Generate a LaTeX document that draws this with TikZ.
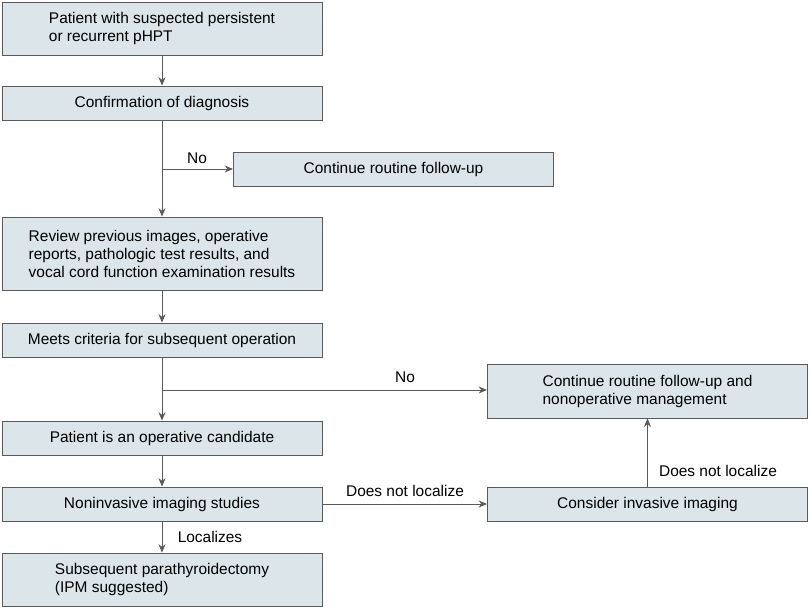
\documentclass[tikz,border=0pt]{standalone}
\usepackage{fontspec}
\setmainfont{Liberation Sans}
\usetikzlibrary{positioning,arrows.meta,calc}
\definecolor{boxfill}{HTML}{DCE6EA}
\definecolor{boxline}{HTML}{5A5A5A}
\begin{document}
\begin{tikzpicture}[x=0.025cm,y=-0.025cm,
  font=\fontsize{11}{12.8}\selectfont,
  stage/.style={draw=boxline, fill=boxfill, line width=0.6pt, align=left,
    minimum width=8cm, inner sep=0pt},
  conn/.style={draw=boxline, line width=0.6pt, -{Stealth[length=6pt,width=5pt]}},
  lbl/.style={inner sep=1pt}]
\useasboundingbox (0,0) rectangle (810,608);
% main column
\node [stage, minimum height=1.325cm] (susp) at (162,28.5) {Patient with suspected persistent\\or recurrent pHPT};
\node [stage, minimum height=0.85cm] (conf) at (162,103) {Confirmation of diagnosis};
\node [stage, minimum height=0.85cm] (cont) at (393.5,169) {Continue routine follow-up};
\node [stage, minimum height=1.825cm] (rev) at (162,253.5) {Review previous images, operative\\reports, pathologic test results, and\\vocal cord function examination results};
\node [stage, minimum height=0.85cm] (meet) at (162,340) {Meets criteria for subsequent operation};
\node [stage, minimum height=1.35cm] (nonop) at (647.5,391) {Continue routine follow-up and\\nonoperative management};
\node [stage, minimum height=0.85cm] (cand) at (162,438) {Patient is an operative candidate};
\node [stage, minimum height=0.85cm] (noninv) at (162,504) {Noninvasive imaging studies};
\node [stage, minimum height=0.85cm] (inv) at (647.5,504) {Consider invasive imaging};
\node [stage, minimum height=1.325cm] (surg) at (162,579.5) {Subsequent parathyroidectomy\\(IPM suggested)};
% junctions
\coordinate (j1) at (162,169);
\coordinate (j2) at (162,390);
% connectors
\draw [conn] (susp) -- (conf);
\draw [conn] (conf) -- (rev);
\draw [conn] (j1) -- (cont);
\draw [conn] (rev) -- (meet);
\draw [conn] (meet) -- (cand);
\draw [conn] (j2) -- (j2 -| nonop.west);
\draw [conn] (cand) -- (noninv);
\draw [conn] (noninv) -- (inv);
\draw [conn] (inv) -- (nonop);
\draw [conn] (noninv) -- (surg);
% labels
\node [lbl] (no1) at (197,158) {No};
\node [lbl] (no2) at (405,377) {No};
\node [lbl] (dnl1) at (405,491) {Does not localize};
\node [lbl] (dnl2) at (718,471) {Does not localize};
\node [lbl] (loc) at (210,537) {Localizes};
\end{tikzpicture}
\end{document}
